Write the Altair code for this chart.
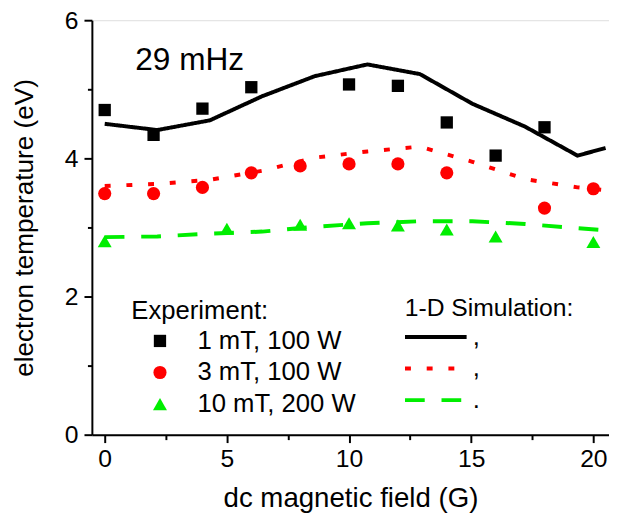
import altair as alt
import pandas as pd

# ---- data ----
exp_series = ["1 mT, 100 W", "3 mT, 100 W", "10 mT, 200 W"]
exp_colors = ["#000000", "#ff0000", "#00ee00"]

sq_x = [0, 2, 4, 6, 10, 12, 14, 16, 18]
sq_y = [4.70, 4.34, 4.72, 5.03, 5.07, 5.05, 4.52, 4.04, 4.45]

ci_x = [0, 2, 4, 6, 8, 10, 12, 14, 18, 20]
ci_y = [3.49, 3.49, 3.58, 3.79, 3.89, 3.92, 3.92, 3.79, 3.28, 3.56]

tr_x = [0, 5, 8, 10, 12, 14, 16, 20]
tr_y = [2.80, 2.98, 3.04, 3.06, 3.03, 2.97, 2.87, 2.79]

sim_keys = ["s1", "s3", "s10"]
sim_labels = [",", ",", "."]
sim_x = [0.0, 2.15, 4.3, 6.45, 8.6, 10.75, 12.9, 15.05, 17.2, 19.35, 20.5]
sim1_y = [4.50, 4.41, 4.55, 4.90, 5.19, 5.36, 5.22, 4.79, 4.46, 4.04, 4.15]
sim3_y = [3.60, 3.63, 3.69, 3.82, 4.01, 4.10, 4.17, 3.95, 3.70, 3.58, 3.54]
sim10_y = [2.86, 2.87, 2.91, 2.94, 3.01, 3.06, 3.09, 3.09, 3.05, 2.99, 2.96]

x_major = [0, 5, 10, 15, 20]
x_minor = [2.5, 7.5, 12.5, 17.5]
y_ticks = [0, 1, 2, 3, 4, 5, 6]

# ---- tables ----
exp_df = pd.concat([
    pd.DataFrame({"B": sq_x, "T": sq_y, "series": exp_series[0]}),
    pd.DataFrame({"B": ci_x, "T": ci_y, "series": exp_series[1]}),
    pd.DataFrame({"B": tr_x, "T": tr_y, "series": exp_series[2]}),
], ignore_index=True)

sim_df = pd.concat([
    pd.DataFrame({"B": sim_x, "T": sim1_y, "sim": sim_keys[0]}),
    pd.DataFrame({"B": sim_x, "T": sim3_y, "sim": sim_keys[1]}),
    pd.DataFrame({"B": sim_x, "T": sim10_y, "sim": sim_keys[2]}),
], ignore_index=True)

FONT = "Liberation Sans"

x_scale = alt.Scale(domain=[-0.525, 20.64], nice=False, zero=False)
y_scale = alt.Scale(domain=[0, 6], nice=False, zero=True)

x_vals = sorted(x_major + x_minor)
x_axis = alt.Axis(
    values=x_vals,
    labelExpr="datum.value % 5 === 0 ? datum.label : ''",
    tickSize={"condition": {"test": "datum.value % 5 === 0", "value": 8}, "value": 5},
    grid=False, domainColor="black", domainWidth=2, tickColor="black", tickWidth=2,
    labelFontSize=25, labelFont=FONT, labelColor="black", labelPadding=4,
    labelFlush=False, labelOverlap=False,
    title="dc magnetic field (G)", titleFontSize=28, titleFont=FONT,
    titleFontWeight="normal", titleColor="black", titlePadding=14,
)
y_axis = alt.Axis(
    values=y_ticks,
    labelExpr="datum.value % 2 === 0 ? datum.label : ''",
    tickSize={"condition": {"test": "datum.value % 2 === 0", "value": 8}, "value": 4.5},
    grid=False, domainColor="black", domainWidth=2, tickColor="black", tickWidth=2,
    labelFontSize=25, labelFont=FONT, labelColor="black", labelPadding=6,
    labelFlush=False, labelOverlap=False,
    title="electron temperature (eV)", titleFontSize=26.5, titleFont=FONT,
    titleFontWeight="normal", titleColor="black", titlePadding=26,
)

X = alt.X("B:Q", scale=x_scale, axis=x_axis)
Y = alt.Y("T:Q", scale=y_scale, axis=y_axis)

exp_legend = alt.Legend(
    title="Experiment:", orient="none", legendX=40, legendY=282,
    padding=0, titleFont=FONT, titleFontSize=26, titleFontWeight="normal",
    titleColor="black", titlePadding=4, labelFont=FONT, labelFontSize=26,
    labelColor="black", labelLimit=400, symbolSize=250, symbolOffset=16, labelOffset=25,
    rowPadding=6, symbolStrokeWidth=0)

sim_legend = alt.Legend(
    title="1-D Simulation:", orient="none", legendX=317, legendY=280,
    padding=0, titleFont=FONT, titleFontSize=25, titleFontWeight="normal",
    titleColor="black", titlePadding=3, titleLimit=400, labelFont=FONT, labelFontSize=26,
    labelColor="black", labelExpr="datum.value === 's10' ? '.' : ','",
    symbolSize=3900, symbolStrokeWidth=4, symbolOffset=-2, labelOffset=4,
    clipHeight=26, rowPadding=6, symbolType="stroke")

points = alt.Chart(exp_df).mark_point(filled=True, opacity=1).encode(
    x=X, y=Y,
    color=alt.Color("series:N", scale=alt.Scale(domain=exp_series, range=exp_colors),
                    legend=exp_legend),
    shape=alt.Shape("series:N", scale=alt.Scale(domain=exp_series,
                                                 range=["square", "circle", "triangle-up"]),
                    legend=exp_legend),
    size=alt.Size("series:N", scale=alt.Scale(domain=exp_series, range=[155, 200, 290]),
                  legend=None),
)

lines = alt.Chart(sim_df).mark_line(strokeWidth=4).encode(
    x=X, y=Y,
    color=alt.Color("sim:N", scale=alt.Scale(domain=sim_keys, range=exp_colors),
                    legend=sim_legend),
    strokeDash=alt.StrokeDash("sim:N", scale=alt.Scale(domain=sim_keys,
                                                         range=[[1, 0], [6, 16], [20, 17]]),
                              legend=sim_legend),
)

label = alt.Chart().mark_text(
    text="29 mHz", align="left", baseline="alphabetic", fontSize=32, font=FONT, color="black"
).encode(x=alt.X(datum=1.25, scale=x_scale, axis=x_axis),
         y=alt.Y(datum=5.285, scale=y_scale, axis=y_axis))

chart = alt.layer(lines, points, label).resolve_scale(
    color="independent", shape="independent", strokeDash="independent",
    size="independent"
).properties(
    width=524, height=420,
    autosize=alt.AutoSizeParams(type="none"),
    padding={"left": 85, "top": 9, "right": 0, "bottom": 77},
).configure_view(stroke=None).configure(font=FONT)

chart.save("out.html", embed_options={"renderer": "svg", "actions": False})
